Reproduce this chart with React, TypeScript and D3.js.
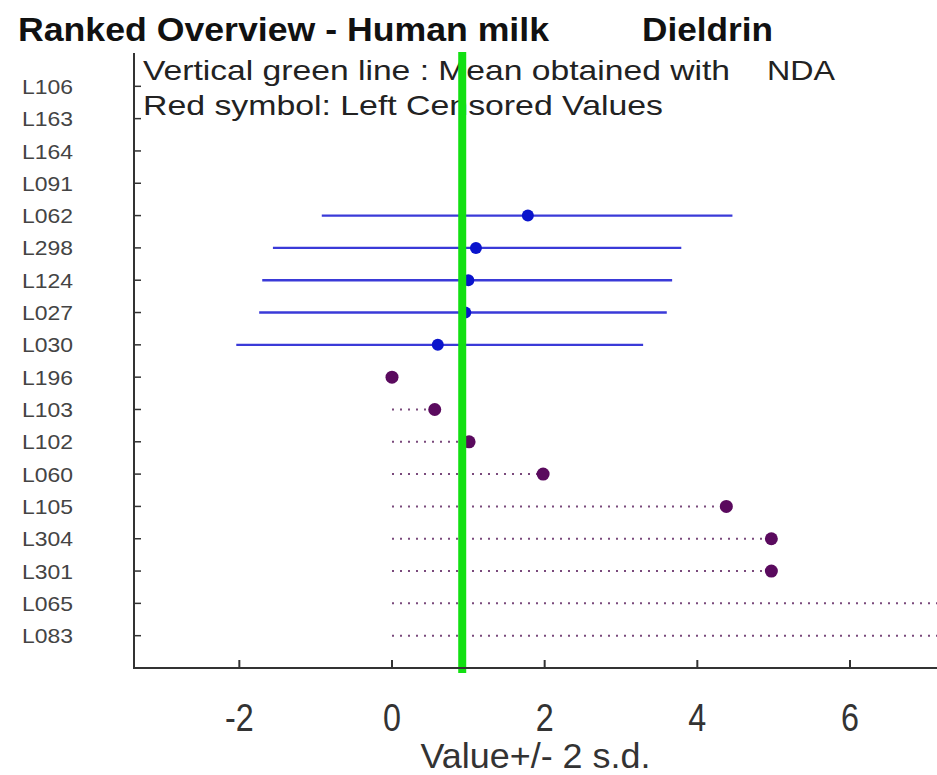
import React from "react";
import * as d3 from "d3";

const labCodes = ["L106","L163","L164","L091","L062","L298","L124","L027","L030","L196","L103","L102","L060","L105","L304","L301","L065","L083"];

const blueLabs = ["L062","L298","L124","L027","L030"];
const blueValues = [1.78, 1.10, 1.00, 0.96, 0.60];
const blueLower = [-0.92, -1.56, -1.70, -1.74, -2.04];
const blueUpper = [4.46, 3.79, 3.67, 3.60, 3.29];

const redLabs = ["L196","L103","L102","L060","L105","L304","L301","L065","L083"];
const redValues = [0.0, 0.56, 1.01, 1.98, 4.38, 4.97, 4.97, 8.5, 8.5];

const xTicks = [-2, 0, 2, 4, 6];
const meanValue = 0.92;

const W = 937, H = 775;
const left = 134, right = 937, top = 54, bottom = 668;

export default function App() {
  const x = d3.scaleLinear().domain([-3.38, 7.14]).range([left, right]);
  const y = d3.scaleLinear().domain([0, labCodes.length + 1]).range([top, bottom]);
  const rowY = (lab: string) => y(labCodes.indexOf(lab) + 1);
  const font = "'Liberation Sans', Arial, Helvetica, sans-serif";

  return (
    <svg width={W} height={H} style={{ position: "absolute", left: 0, top: 0, background: "#fff" }} fontFamily={font}>
      <defs>
        <clipPath id="plotClip">
          <rect x={left} y={top - 4} width={right - left} height={bottom - top + 8} />
        </clipPath>
      </defs>
      <rect x={0} y={0} width={W} height={H} fill="#fff" />
      {/* Title */}
      <text x={18} y={41} fontSize={34} fontWeight="bold" fill="#111" textLength={531} lengthAdjust="spacingAndGlyphs">Ranked Overview - Human milk</text>
      <text x={642} y={41} fontSize={34} fontWeight="bold" fill="#111" textLength={131} lengthAdjust="spacingAndGlyphs">Dieldrin</text>

      {/* Legend texts */}
      <text x={143} y={80} fontSize={28} fill="#222" textLength={587} lengthAdjust="spacingAndGlyphs">Vertical green line : Mean obtained with</text>
      <text x={767} y={80} fontSize={28} fill="#222" textLength={68} lengthAdjust="spacingAndGlyphs">NDA</text>
      <text x={143} y={115} fontSize={28} fill="#222" textLength={520} lengthAdjust="spacingAndGlyphs">Red symbol: Left Censored Values</text>

      <g clipPath="url(#plotClip)">
        {/* Censored dotted lines */}
        {redLabs.map((lab, i) => (
          <line key={"rd" + lab} x1={x(0)} x2={x(redValues[i])} y1={rowY(lab)} y2={rowY(lab)}
            stroke="#7a4a7c" strokeWidth={2} strokeDasharray="2,6" />
        ))}
        {/* Blue error bars */}
        {blueLabs.map((lab, i) => (
          <line key={"bl" + lab} x1={x(blueLower[i])} x2={x(blueUpper[i])} y1={rowY(lab)} y2={rowY(lab)}
            stroke="#3a3ad8" strokeWidth={2.4} />
        ))}
        {blueLabs.map((lab, i) => (
          <circle key={"bc" + lab} cx={x(blueValues[i])} cy={rowY(lab)} r={6} fill="#0a14cc" />
        ))}
        {redLabs.map((lab, i) => (
          <circle key={"rc" + lab} cx={x(redValues[i])} cy={rowY(lab)} r={6.5} fill="#5a0a5e" />
        ))}
      </g>

      {/* Green mean line */}
      <line x1={x(meanValue)} x2={x(meanValue)} y1={52} y2={673} stroke="#12e012" strokeWidth={8} />

      {/* Axes */}
      <line x1={left} x2={left} y1={53} y2={bottom + 1} stroke="#333" strokeWidth={2} />
      <line x1={left - 1} x2={right} y1={bottom} y2={bottom} stroke="#333" strokeWidth={2} />
      {labCodes.map((lab, i) => (
        <g key={"yt" + lab}>
          <line x1={left} x2={left + 7} y1={y(i + 1)} y2={y(i + 1)} stroke="#333" strokeWidth={1.5} />
          <text x={22} y={y(i + 1)} dy="0.36em" fontSize={21} fill="#444" textLength={51} lengthAdjust="spacingAndGlyphs">{lab}</text>
        </g>
      ))}
      {xTicks.map((t) => (
        <g key={"xt" + t}>
          <line x1={x(t)} x2={x(t)} y1={bottom} y2={bottom - 8} stroke="#333" strokeWidth={2} />
          <text transform={`translate(${x(t)},731) scale(0.85,1)`} fontSize={38} fill="#333" textAnchor="middle">{t}</text>
        </g>
      ))}
      <text x={(left + right) / 2} y={768} fontSize={35} fill="#333" textAnchor="middle" textLength={230} lengthAdjust="spacingAndGlyphs">Value+/- 2 s.d.</text>
    </svg>
  );
}
